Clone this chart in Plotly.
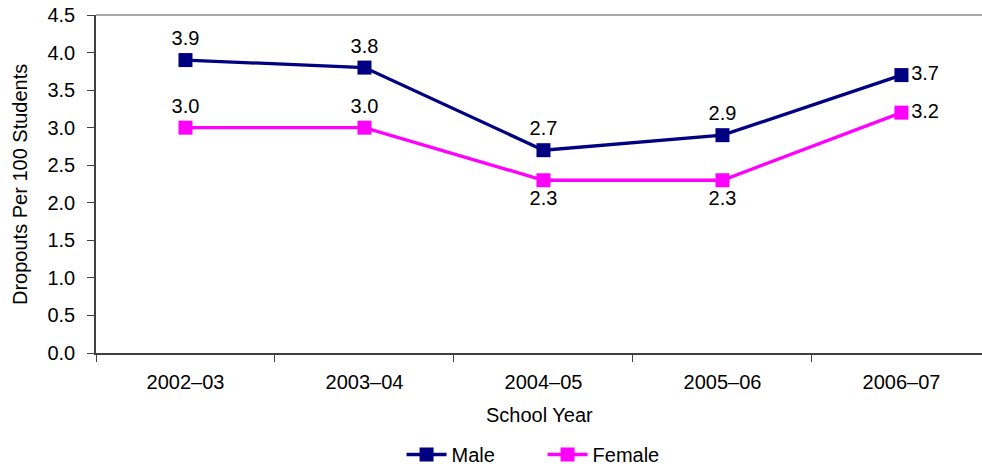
import plotly.graph_objects as go

years = ["2002–03", "2003–04", "2004–05", "2005–06", "2006–07"]
male = [3.9, 3.8, 2.7, 2.9, 3.7]
female = [3.0, 3.0, 2.3, 2.3, 3.2]
male_pos = ["top center", "top center", "top center", "top center", "middle right"]
female_pos = ["top center", "top center", "bottom center", "bottom center", "middle right"]
yticks = [0.0, 0.5, 1.0, 1.5, 2.0, 2.5, 3.0, 3.5, 4.0, 4.5]

FONT = "Liberation Sans, Arial, sans-serif"
FS = 20

fig = go.Figure()
fig.add_trace(go.Scatter(
    x=years, y=male, name="Male", mode="lines+markers+text",
    line=dict(color="#000080", width=3.3),
    marker=dict(symbol="square", size=14, color="#000080"),
    text=[f"{v:.1f}" for v in male], textposition=male_pos,
    textfont=dict(size=FS, color="#000000", family=FONT),
    cliponaxis=False,
))
fig.add_trace(go.Scatter(
    x=years, y=female, name="Female", mode="lines+markers+text",
    line=dict(color="#FF00FF", width=3.3),
    marker=dict(symbol="square", size=14, color="#FF00FF"),
    text=[f"{v:.1f}" for v in female], textposition=female_pos,
    textfont=dict(size=FS, color="#000000", family=FONT),
    cliponaxis=False,
))

fig.update_layout(
    width=982, height=474,
    margin=dict(l=96, r=0, t=15, b=116),
    paper_bgcolor="white", plot_bgcolor="white",
    font=dict(family=FONT, size=FS, color="#000000"),
    showlegend=True,
    legend=dict(orientation="h", x=0.504, xanchor="center", y=-0.302, yanchor="middle",
                font=dict(size=FS), itemwidth=40, entrywidth=86, traceorder="normal"),
    xaxis=dict(
        type="category", range=[-0.5, 4.45], tickson="boundaries",
        ticks="outside", ticklen=7, tickcolor="#404040",
        showline=True, linecolor="#404040", linewidth=1.5,
        showgrid=False, zeroline=False, ticklabelstandoff=10,
        tickfont=dict(size=FS),
    ),
    yaxis=dict(
        range=[0, 4.5], tickvals=yticks, ticktext=[f"{v:.1f}" for v in yticks],
        ticks="outside", ticklen=7, tickcolor="#404040",
        showline=True, linecolor="#404040", linewidth=1.5,
        showgrid=False, zeroline=False, ticklabelstandoff=8,
        tickfont=dict(size=FS),
    ),
    shapes=[dict(type="line", xref="paper", yref="paper", x0=0, x1=1, y0=1, y1=1,
                 line=dict(color="#8c8c8c", width=1.5))],
    annotations=[
        dict(text="School Year", xref="paper", yref="paper", x=0.5, y=-0.183,
             xanchor="center", yanchor="middle", showarrow=False, font=dict(size=FS)),
        dict(text="Dropouts Per 100 Students", xref="paper", yref="paper",
             x=-0.0858, y=0.5, xanchor="center", yanchor="middle", textangle=-90,
             showarrow=False, font=dict(size=FS)),
    ],
)

fig.write_html("out.html", config={"displayModeBar": False},
               post_script="document.body.style.margin='0';document.body.style.overflow='hidden';")
